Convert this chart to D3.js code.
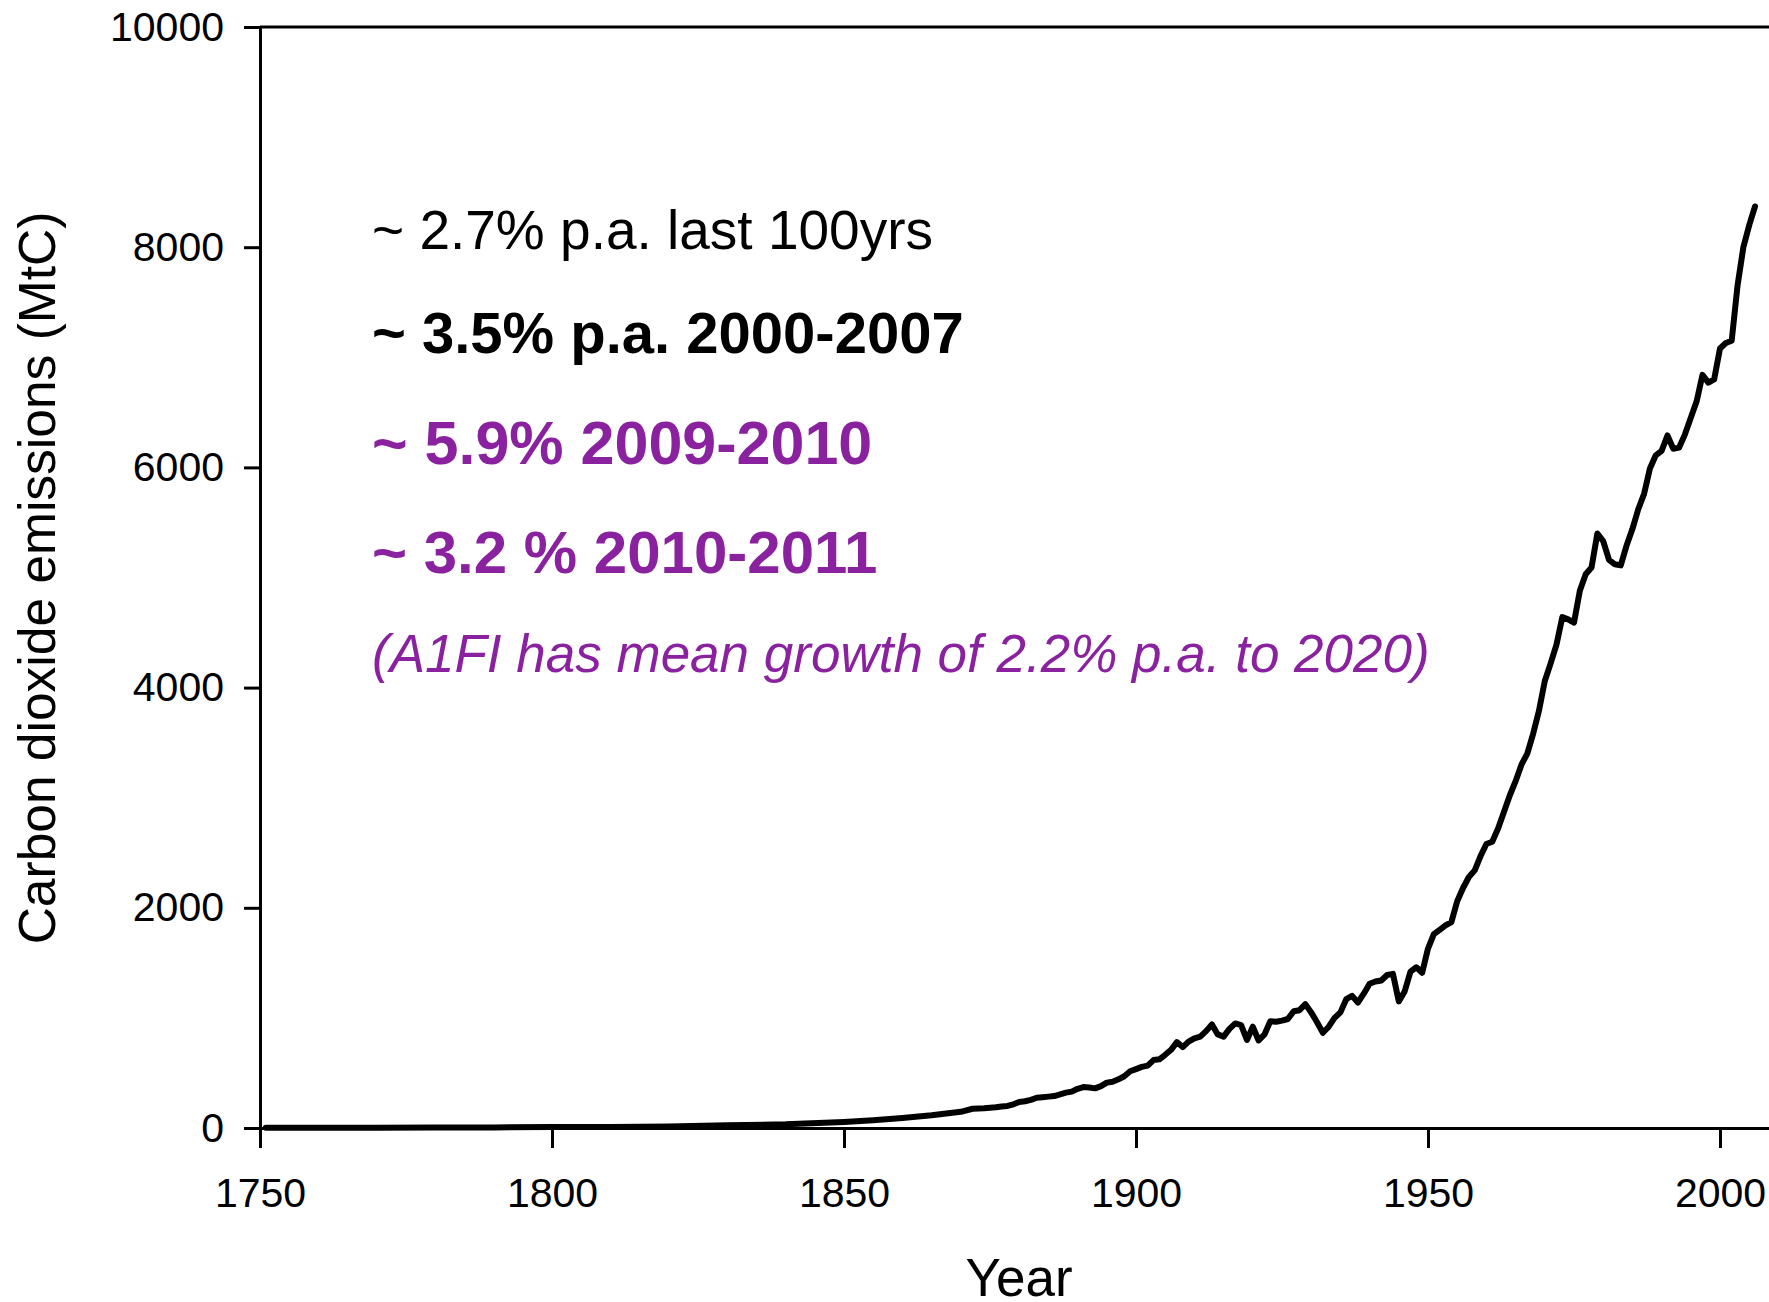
<!DOCTYPE html>
<html>
<head>
<meta charset="utf-8">
<script src="https://cdn.jsdelivr.net/npm/d3@7"></script>
<style>
    body { margin: 0; background: #fff; }
    svg { display: block; }
    .axis path, .axis line { stroke: #000; stroke-width: 3px; }
    .axis text { font-family: "Liberation Sans", Arial, sans-serif; font-size: 41px; fill: #000; }
</style>
</head>
<body>
<div id="chart"></div>
<script>
// years (sparse before 1877, yearly after)
var years = [1751, 1760, 1770, 1780, 1790, 1800, 1810, 1820, 1830, 1840, 1850,
    1855, 1860, 1865, 1870, 1872, 1874, 1876,
    1877, 1878, 1879, 1880, 1881, 1882, 1883, 1884, 1885, 1886, 1887, 1888, 1889,
    1890, 1891, 1892, 1893, 1894, 1895, 1896, 1897, 1898, 1899,
    1900, 1901, 1902, 1903, 1904, 1905, 1906, 1907, 1908, 1909,
    1910, 1911, 1912, 1913, 1914, 1915, 1916, 1917, 1918, 1919,
    1920, 1921, 1922, 1923, 1924, 1925, 1926, 1927, 1928, 1929,
    1930, 1931, 1932, 1933, 1934, 1935, 1936, 1937, 1938, 1939,
    1940, 1941, 1942, 1943, 1944, 1945, 1946, 1947, 1948, 1949,
    1950, 1951, 1952, 1953, 1954, 1955, 1956, 1957, 1958, 1959,
    1960, 1961, 1962, 1963, 1964, 1965, 1966, 1967, 1968, 1969,
    1970, 1971, 1972, 1973, 1974, 1975, 1976, 1977, 1978, 1979,
    1980, 1981, 1982, 1983, 1984, 1985, 1986, 1987, 1988, 1989,
    1990, 1991, 1992, 1993, 1994, 1995, 1996, 1997, 1998, 1999,
    2000, 2001, 2002, 2003, 2004, 2005, 2006];

// emissions in MtC
var emissions = [3, 3, 3, 4, 5, 8, 10, 14, 24, 33, 54,
    70, 91, 115, 147, 175, 180, 188,
    196, 200, 215, 236, 243, 256, 275, 280, 285, 290, 305, 321, 330,
    356, 372, 368, 360, 380, 412, 420, 442, 470, 515,
    535, 555, 566, 617, 624, 665, 710, 780, 735, 785,
    815, 830, 880, 940, 850, 830, 900, 950, 935, 800,
    920, 795, 850, 970, 965, 975, 990, 1060, 1070, 1125,
    1050, 960, 865, 920, 1000, 1050, 1170, 1200, 1140, 1220,
    1310, 1330, 1340, 1390, 1400, 1150, 1240, 1420, 1460, 1410,
    1630, 1760, 1800, 1840, 1870, 2060, 2180, 2280, 2340, 2470,
    2580, 2600, 2720, 2870, 3020, 3150, 3300, 3400, 3580, 3790,
    4060, 4220, 4390, 4640, 4620, 4590, 4880, 5030, 5090, 5400,
    5330, 5160, 5120, 5110, 5290, 5440, 5620, 5760, 5990, 6110,
    6150, 6290, 6170, 6180, 6300, 6450, 6600, 6840, 6770, 6800,
    7080, 7130, 7150, 7650, 8000, 8200, 8370];

var xTicks = [1750, 1800, 1850, 1900, 1950, 2000];
var yTicks = [0, 2000, 4000, 6000, 8000, 10000];

// annotation lines
var notes = [
    {text: "~ 2.7% p.a. last 100yrs", weight: "normal", style: "normal", color: "#000", size: 55, y: 249},
    {text: "~ 3.5% p.a. 2000-2007", weight: "bold", style: "normal", color: "#000", size: 58, y: 353},
    {text: "~ 5.9% 2009-2010", weight: "bold", style: "normal", color: "#8a22a0", size: 61, y: 464},
    {text: "~ 3.2 % 2010-2011", weight: "bold", style: "normal", color: "#8a22a0", size: 60, y: 573},
    {text: "(A1FI has mean growth of 2.2% p.a. to 2020)", weight: "normal", style: "italic", color: "#8a22a0", size: 53, y: 672}
];

// size
var svgW = 1769, svgH = 1302;
var margin = {top: 27, left: 260, bottom: 174};
var plotH = svgH - margin.top - margin.bottom;

var svg = d3.select("#chart").append("svg")
    .attr("width", svgW)
    .attr("height", svgH);

svg.append("rect").attr("width", svgW).attr("height", svgH).attr("fill", "#fff");

var xScale = d3.scaleLinear()
    .domain([1750, 2010])
    .range([margin.left, margin.left + 260 * 5.84]);

var yScale = d3.scaleLinear()
    .domain([0, 10000])
    .range([margin.top + plotH, margin.top]);

// top border line
svg.append("line")
    .attr("x1", xScale(1750)).attr("x2", svgW)
    .attr("y1", yScale(10000)).attr("y2", yScale(10000))
    .attr("stroke", "#000").attr("stroke-width", 3);

// axes
var xAxis = d3.axisBottom(xScale)
    .tickValues(xTicks)
    .tickFormat(d3.format("d"))
    .tickSizeInner(20)
    .tickSizeOuter(0)
    .tickPadding(30);

var yAxis = d3.axisLeft(yScale)
    .tickValues(yTicks)
    .tickFormat(d3.format("d"))
    .tickSizeInner(16)
    .tickSizeOuter(0)
    .tickPadding(20);

svg.append("g")
    .attr("class", "axis axis--x")
    .attr("transform", "translate(0," + yScale(0) + ")")
    .call(xAxis);

svg.append("g")
    .attr("class", "axis axis--y")
    .attr("transform", "translate(" + xScale(1750) + ",0)")
    .call(yAxis);

// axis titles
svg.append("text")
    .attr("x", 1019)
    .attr("y", 1296)
    .attr("text-anchor", "middle")
    .style("font-family", "'Liberation Sans', Arial, sans-serif")
    .style("font-size", "53px")
    .text("Year");

svg.append("text")
    .attr("transform", "translate(55," + 578 + ") rotate(-90)")
    .attr("text-anchor", "middle")
    .style("font-family", "'Liberation Sans', Arial, sans-serif")
    .style("font-size", "51.5px")
    .text("Carbon dioxide emissions (MtC)");

// emissions line
var data = years.map(function(y, i) { return {year: y, value: emissions[i]}; });

var line = d3.line()
    .x(function(d) { return xScale(d.year); })
    .y(function(d) { return yScale(d.value); });

svg.append("path")
    .datum(data)
    .attr("d", line)
    .attr("fill", "none")
    .attr("stroke", "#000")
    .attr("stroke-width", 6)
    .attr("stroke-linejoin", "round")
    .attr("stroke-linecap", "round");

// annotations
svg.selectAll("text.note")
    .data(notes)
    .enter().append("text")
    .attr("class", "note")
    .attr("x", 372)
    .attr("y", function(d) { return d.y; })
    .style("font-family", "'Liberation Sans', Arial, sans-serif")
    .style("font-size", function(d) { return d.size + "px"; })
    .style("font-weight", function(d) { return d.weight; })
    .style("font-style", function(d) { return d.style; })
    .attr("fill", function(d) { return d.color; })
    .text(function(d) { return d.text; });
</script>
</body>
</html>
